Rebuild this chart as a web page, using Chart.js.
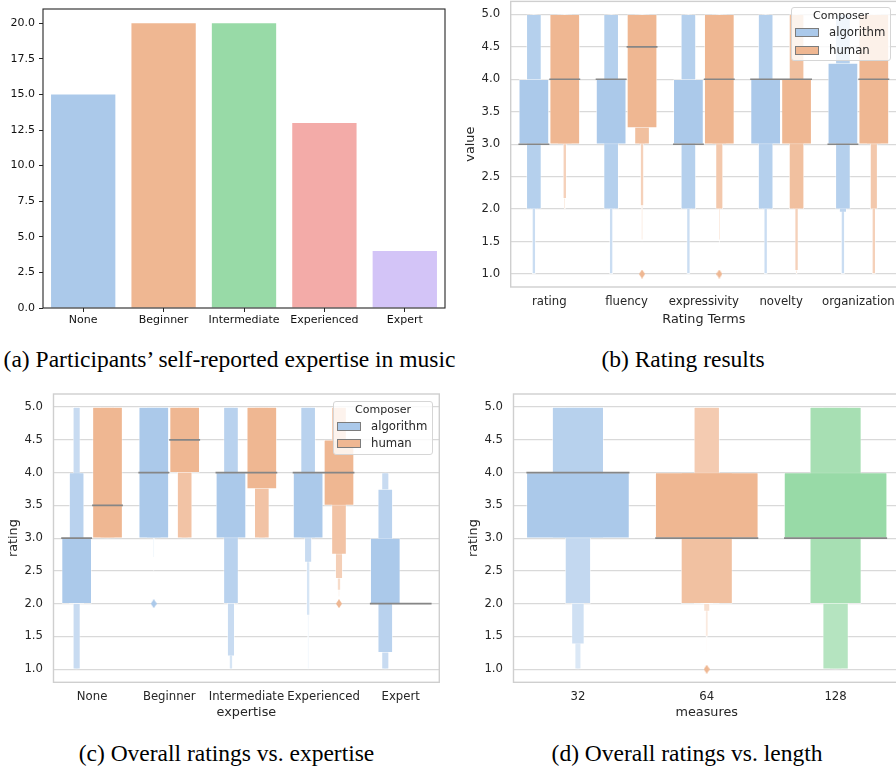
<!DOCTYPE html>
<html>
<head>
<meta charset="utf-8">
<script src="https://cdn.jsdelivr.net/npm/chart.js@4.4.1/dist/chart.umd.min.js"></script>
<style>
  html, body { margin: 0; padding: 0; background: #fff; }
  body { position: relative; width: 896px; height: 767px; overflow: hidden; }
  canvas { position: absolute; }
  .caption { position: absolute; font-family: 'Liberation Serif', 'Times New Roman', serif; font-size: 23.5px;
             line-height: 28px; color: #000; text-align: center; white-space: nowrap; }
  .legend { position: absolute; width: 100px; height: 54px; box-sizing: border-box; border: 1px solid #d6d6d6;
            border-radius: 3px; background: rgba(255,255,255,0.8); font-family: 'DejaVu Sans', sans-serif; color: #262626; }
  .legend .title { position: absolute; left: 0; right: 0; top: 0; text-align: center; font-size: 11px; line-height: 15px; }
  .legend .patch { position: absolute; left: 3px; width: 24px; height: 9px; box-sizing: border-box; border: 1px solid #7c7c7c; }
  .legend .label { position: absolute; left: 37px; font-size: 11.7px; line-height: 15px; white-space: nowrap; }
</style>
</head>
<body>
<canvas id="chartA" width="450" height="345" style="left:0;top:0"></canvas>
<canvas id="chartB" width="445" height="345" style="left:455px;top:0"></canvas>
<canvas id="chartC" width="450" height="345" style="left:0;top:390px"></canvas>
<canvas id="chartD" width="445" height="345" style="left:455px;top:390px"></canvas>

<div class="legend" style="left:791px;top:7px">
  <div class="title">Composer</div>
  <div class="patch" style="top:20px;background:#abc9ea"></div><div class="label" style="top:17px">algorithm</div>
  <div class="patch" style="top:37.5px;background:#efb792"></div><div class="label" style="top:34.5px">human</div>
</div>
<div class="legend" style="left:333px;top:400.7px">
  <div class="title">Composer</div>
  <div class="patch" style="top:20px;background:#abc9ea"></div><div class="label" style="top:17px">algorithm</div>
  <div class="patch" style="top:37.5px;background:#efb792"></div><div class="label" style="top:34.5px">human</div>
</div>

<div class="caption" style="left:0;width:459px;top:345px">(a) Participants’ self-reported expertise in music</div>
<div class="caption" style="left:583px;width:200px;top:345px">(b) Rating results</div>
<div class="caption" style="left:53px;width:347px;top:739px">(c) Overall ratings vs. expertise</div>
<div class="caption" style="left:537px;width:300px;top:739px">(d) Overall ratings vs. length</div>

<script>
// (a) participants per expertise level
const expertiseLevels = ['None', 'Beginner', 'Intermediate', 'Experienced', 'Expert'];
const participantCounts = [15, 20, 20, 13, 4];
const countTicks = [0, 2.5, 5, 7.5, 10, 12.5, 15, 17.5, 20];

// shared rating axis
const ratingTicks = [1, 1.5, 2, 2.5, 3, 3.5, 4, 4.5, 5];

// (b) letter values per rating term, depth 0 = quartiles, then outwards
const ratingTerms = ['rating', 'fluency', 'expressivity', 'novelty', 'organization'];
const termAlgoLower = [
    [3, 2, 2, 1, 1, 1, 1, 1],
    [3, 2, 2, 1, 1, 1, 1, 1],
    [3, 2, 2, 1, 1, 1, 1, 1],
    [3, 2, 2, 1, 1, 1, 1, 1],
    [3, 2, 1.95, 1, 1, 1, 1, 1]
];
const termAlgoUpper = [
    [4, 5, 5, 5, 5, 5, 5, 5],
    [4, 5, 5, 5, 5, 5, 5, 5],
    [4, 5, 5, 5, 5, 5, 5, 5],
    [4, 5, 5, 5, 5, 5, 5, 5],
    [4.25, 5, 5, 5, 5, 5, 5, 5]
];
const termAlgoMedian = [3, 4, 3, 4, 3];
const termAlgoOutliers = [[], [], [], [], []];
const termHumanLower = [
    [3, 3, 3, 2.16, 2, 2, 2, 2],
    [3.25, 3, 3, 2.05, 1.52, 1.5, 1.5, 1.5],
    [3, 3, 2, 2, 1.52, 1.25, 1.25, 1.25],
    [3, 2, 2, 1.05, 1, 1, 1, 1],
    [3, 3, 2, 1, 1, 1, 1, 1]
];
const termHumanUpper = [
    [5, 5, 5, 5, 5, 5, 5, 5],
    [5, 5, 5, 5, 5, 5, 5, 5],
    [5, 5, 5, 5, 5, 5, 5, 5],
    [4, 5, 5, 5, 5, 5, 5, 5],
    [5, 5, 5, 5, 5, 5, 5, 5]
];
const termHumanMedian = [4, 4.5, 4, 4, 4];
const termHumanOutliers = [[], [1], [1], [], []];

// (c) overall rating by expertise
const expAlgoLower = [
    [2, 2, 1, 1, 1, 1],
    [3, 3, 3, 3, 2.7, 2.5],
    [3, 2, 1.2, 1, 1, 1],
    [3, 3, 2.63, 1.82, 1, 1],
    [2, 1.25, 1, 1, 1, 1]
];
const expAlgoUpper = [
    [3, 4, 5, 5, 5, 5],
    [5, 5, 5, 5, 5, 5],
    [4, 5, 5, 5, 5, 5],
    [4, 5, 5, 5, 5, 5],
    [3, 3.75, 4, 4, 4, 4]
];
const expAlgoMedian = [3, 4, 4, 4, 2];
const expAlgoOutliers = [[], [2], [], [], []];
const expHumanLower = [
    [3, 3, 3, 3, 3, 3],
    [4, 3, 3, 3, 3, 3],
    [3.75, 3, 3, 3, 3, 3],
    [3.5, 2.75, 2.38, 2.2, 2.1, 2.1],
    [2, 2, 2, 2, 2, 2]
];
const expHumanUpper = [
    [5, 5, 5, 5, 5, 5],
    [5, 5, 5, 5, 5, 5],
    [5, 5, 5, 5, 5, 5],
    [4.5, 5, 5, 5, 5, 5],
    [2, 2, 2, 2, 2, 2]
];
const expHumanMedian = [3.5, 4.5, 4, 4, 2];
const expHumanOutliers = [[], [], [], [2], []];

// (d) overall rating by piece length
const lengthMeasures = ['32', '64', '128'];
const lenLower = [
    [3, 3, 2, 1.38, 1, 1, 1],
    [3, 2, 2, 2, 1.88, 1.5, 1.25],
    [3, 2, 1, 1, 1, 1, 1]
];
const lenUpper = [
    [4, 5, 5, 5, 5, 5, 5],
    [4, 4, 5, 5, 5, 5, 5],
    [4, 5, 5, 5, 5, 5, 5]
];
const lenMedian = [4, 3, 3];
const lenOutliers = [[], [1], []];

// seaborn pastel, desaturated
const PALETTE = ['#abc9ea', '#efb792', '#98daa7', '#f3aba8', '#d3c4f7'];
const TEXT = '#262626';
const GRID = '#d9d9d9';
const MEDIAN = '#868686';

Chart.defaults.font.family = "'DejaVu Sans', sans-serif";

function hexToRgb(hex) {
    const n = parseInt(hex.slice(1), 16);
    return [(n >> 16) & 255, (n >> 8) & 255, n & 255];
}

// outer letter-value boxes fade towards white
function shade(hex, depth, k) {
    const f = k > 1 ? 0.85 * depth / (k - 1) : 0;
    const [r, g, b] = hexToRgb(hex).map(c => Math.round(c + (255 - c) * f));
    return `rgb(${r},${g},${b})`;
}

function thinDiamond(color) {
    const c = document.createElement('canvas');
    c.width = 6; c.height = 9;
    const x = c.getContext('2d');
    x.fillStyle = color;
    x.beginPath();
    x.moveTo(3, 0); x.lineTo(6, 4.5); x.lineTo(3, 9); x.lineTo(0, 4.5);
    x.closePath();
    x.fill();
    return c;
}

// keep the plot area where it is in the figure
function fixWidth(w) {
    return s => { s.width = w; s.paddingTop = 0; s.paddingBottom = 0; s.paddingLeft = 0; s.paddingRight = 0; };
}
function fixHeight(h) {
    return s => { s.height = h; s.paddingTop = 0; s.paddingBottom = 0; s.paddingLeft = 0; s.paddingRight = 0; };
}

const framePlugin = {
    id: 'frame',
    afterDraw(chart, args, opts) {
        const { ctx, chartArea: a } = chart;
        ctx.save();
        ctx.strokeStyle = opts.color;
        ctx.lineWidth = opts.width;
        ctx.strokeRect(a.left, a.top, a.right - a.left, a.bottom - a.top);
        ctx.restore();
    }
};

// ---- (a) bar chart ----
new Chart(document.getElementById('chartA'), {
    type: 'bar',
    data: {
        labels: expertiseLevels,
        datasets: [{
            data: participantCounts,
            backgroundColor: PALETTE,
            barPercentage: 0.8,
            categoryPercentage: 1
        }]
    },
    options: {
        responsive: false,
        animation: false,
        devicePixelRatio: 1,
        layout: { autoPadding: false, padding: { left: 0, right: 5, top: 9, bottom: 0 } },
        plugins: {
            legend: { display: false },
            tooltip: { enabled: false },
            frame: { color: '#262626', width: 1.1 }
        },
        scales: {
            x: {
                grid: { offset: false, drawOnChartArea: false, tickLength: 4, color: '#262626' },
                border: { display: false },
                ticks: { color: '#111', font: { size: 11 }, padding: 2, maxRotation: 0, autoSkip: false },
                afterFit: fixHeight(37)
            },
            y: {
                min: 0,
                max: 21,
                bounds: 'data',
                afterBuildTicks: s => { s.ticks = countTicks.map(v => ({ value: v })); },
                grid: { drawOnChartArea: false, tickLength: 4, color: '#262626' },
                border: { display: false },
                ticks: { color: '#111', font: { size: 11 }, padding: 4, autoSkip: false, callback: v => v.toFixed(1) },
                afterFit: fixWidth(43)
            }
        }
    },
    plugins: [framePlugin]
});

// ---- boxen charts ----
function boxenDatasets(groups, k, widest) {
    const sets = [];
    for (let d = 0; d < k; d++) {
        sets.push({
            type: 'bar',
            data: groups.map(g => ({ x: g.x, y: [g.lower[d], g.upper[d]] })),
            backgroundColor: groups.map(g => shade(g.color, d, k)),
            borderColor: 'rgba(255,255,255,0.9)',
            borderWidth: 0.7,
            borderSkipped: false,
            grouped: false,
            categoryPercentage: 1,
            barPercentage: widest * Math.pow(0.5, d),
            order: d + 1
        });
    }
    return sets;
}

function medianDataset(groups, half) {
    const pts = [];
    groups.forEach(g => {
        pts.push({ x: g.x - half, y: g.median }, { x: g.x + half, y: g.median }, { x: g.x + half, y: null });
    });
    return {
        type: 'line', data: pts, borderColor: MEDIAN, borderWidth: 1.6,
        pointRadius: 0, spanGaps: false, order: -1
    };
}

function outlierDataset(groups) {
    const pts = [], styles = [];
    groups.forEach(g => g.outliers.forEach(v => {
        pts.push({ x: g.x, y: v });
        styles.push(thinDiamond(g.color));
    }));
    return { type: 'scatter', data: pts, pointStyle: styles, pointRadius: 4, order: -2 };
}

function boxenChart(id, cfg) {
    const datasets = boxenDatasets(cfg.groups, cfg.k, cfg.widest)
        .concat([medianDataset(cfg.groups, cfg.half), outlierDataset(cfg.groups)]);
    return new Chart(document.getElementById(id), {
        type: 'bar',
        data: { datasets },
        options: {
            responsive: false,
            animation: false,
            devicePixelRatio: 1,
            layout: { autoPadding: false, padding: cfg.padding },
            plugins: {
                legend: { display: false },
                tooltip: { enabled: false },
                frame: { color: '#cfcfcf', width: 1.4 }
            },
            scales: {
                x: {
                    type: 'linear',
                    min: -0.5,
                    max: cfg.categories.length - 0.5,
                    bounds: 'data',
                    offset: false,
                    afterBuildTicks: s => { s.ticks = cfg.categories.map((c, i) => ({ value: i })); },
                    grid: { display: false, drawTicks: false },
                    border: { display: false },
                    ticks: {
                        color: TEXT, font: { size: 11.7 }, padding: 8, maxRotation: 0, minRotation: 0,
                        autoSkip: false, callback: (v, i) => cfg.categories[i]
                    },
                    title: {
                        display: true, text: cfg.xTitle, color: TEXT, font: { size: 12.8 },
                        padding: { top: 0, bottom: cfg.xTitlePad }
                    },
                    afterFit: fixHeight(cfg.xHeight)
                },
                y: {
                    min: 0.8,
                    max: 5.2,
                    bounds: 'data',
                    afterBuildTicks: s => { s.ticks = ratingTicks.map(v => ({ value: v })); },
                    grid: { color: GRID, lineWidth: 1.3, drawTicks: false },
                    border: { display: false },
                    ticks: { color: TEXT, font: { size: 11.7 }, padding: 10.5, autoSkip: false, callback: v => v.toFixed(1) },
                    title: {
                        display: true, text: cfg.yTitle, color: TEXT, font: { size: 12.8 },
                        padding: { top: cfg.yTitlePad, bottom: 0 }
                    },
                    afterFit: fixWidth(cfg.yWidth)
                }
            }
        },
        plugins: [framePlugin]
    });
}

function hueGroups(count, aLo, aUp, aMed, aOut, hLo, hUp, hMed, hOut) {
    const groups = [];
    for (let i = 0; i < count; i++) {
        groups.push({ x: i - 0.2, color: PALETTE[0], lower: aLo[i], upper: aUp[i], median: aMed[i], outliers: aOut[i] });
        groups.push({ x: i + 0.2, color: PALETTE[1], lower: hLo[i], upper: hUp[i], median: hMed[i], outliers: hOut[i] });
    }
    return groups;
}

// (b)
boxenChart('chartB', {
    groups: hueGroups(ratingTerms.length, termAlgoLower, termAlgoUpper, termAlgoMedian, termAlgoOutliers,
        termHumanLower, termHumanUpper, termHumanMedian, termHumanOutliers),
    k: 8, widest: 0.975, half: 0.2,
    categories: ratingTerms,
    xTitle: 'Rating Terms', yTitle: 'value',
    padding: { left: 0, right: 3, top: 1.4, bottom: 0 },
    yWidth: 55.7, xHeight: 58, yTitlePad: 8, xTitlePad: 17.3
});

// (c)
boxenChart('chartC', {
    groups: hueGroups(expertiseLevels.length, expAlgoLower, expAlgoUpper, expAlgoMedian, expAlgoOutliers,
        expHumanLower, expHumanUpper, expHumanMedian, expHumanOutliers),
    k: 6, widest: 0.975, half: 0.2,
    categories: expertiseLevels,
    xTitle: 'expertise', yTitle: 'rating',
    padding: { left: 0, right: 10.7, top: 4, bottom: 0 },
    yWidth: 53.5, xHeight: 52.7, yTitlePad: 5.6, xTitlePad: 14.3
});

// (d)
boxenChart('chartD', {
    groups: lengthMeasures.map((m, i) => ({
        x: i, color: PALETTE[i], lower: lenLower[i], upper: lenUpper[i], median: lenMedian[i], outliers: lenOutliers[i]
    })),
    k: 7, widest: 0.8, half: 0.4,
    categories: lengthMeasures,
    xTitle: 'measures', yTitle: 'rating',
    padding: { left: 0, right: 0, top: 4, bottom: 0 },
    yWidth: 58.5, xHeight: 52.7, yTitlePad: 11.3, xTitlePad: 14.3
});
</script>
</body>
</html>
